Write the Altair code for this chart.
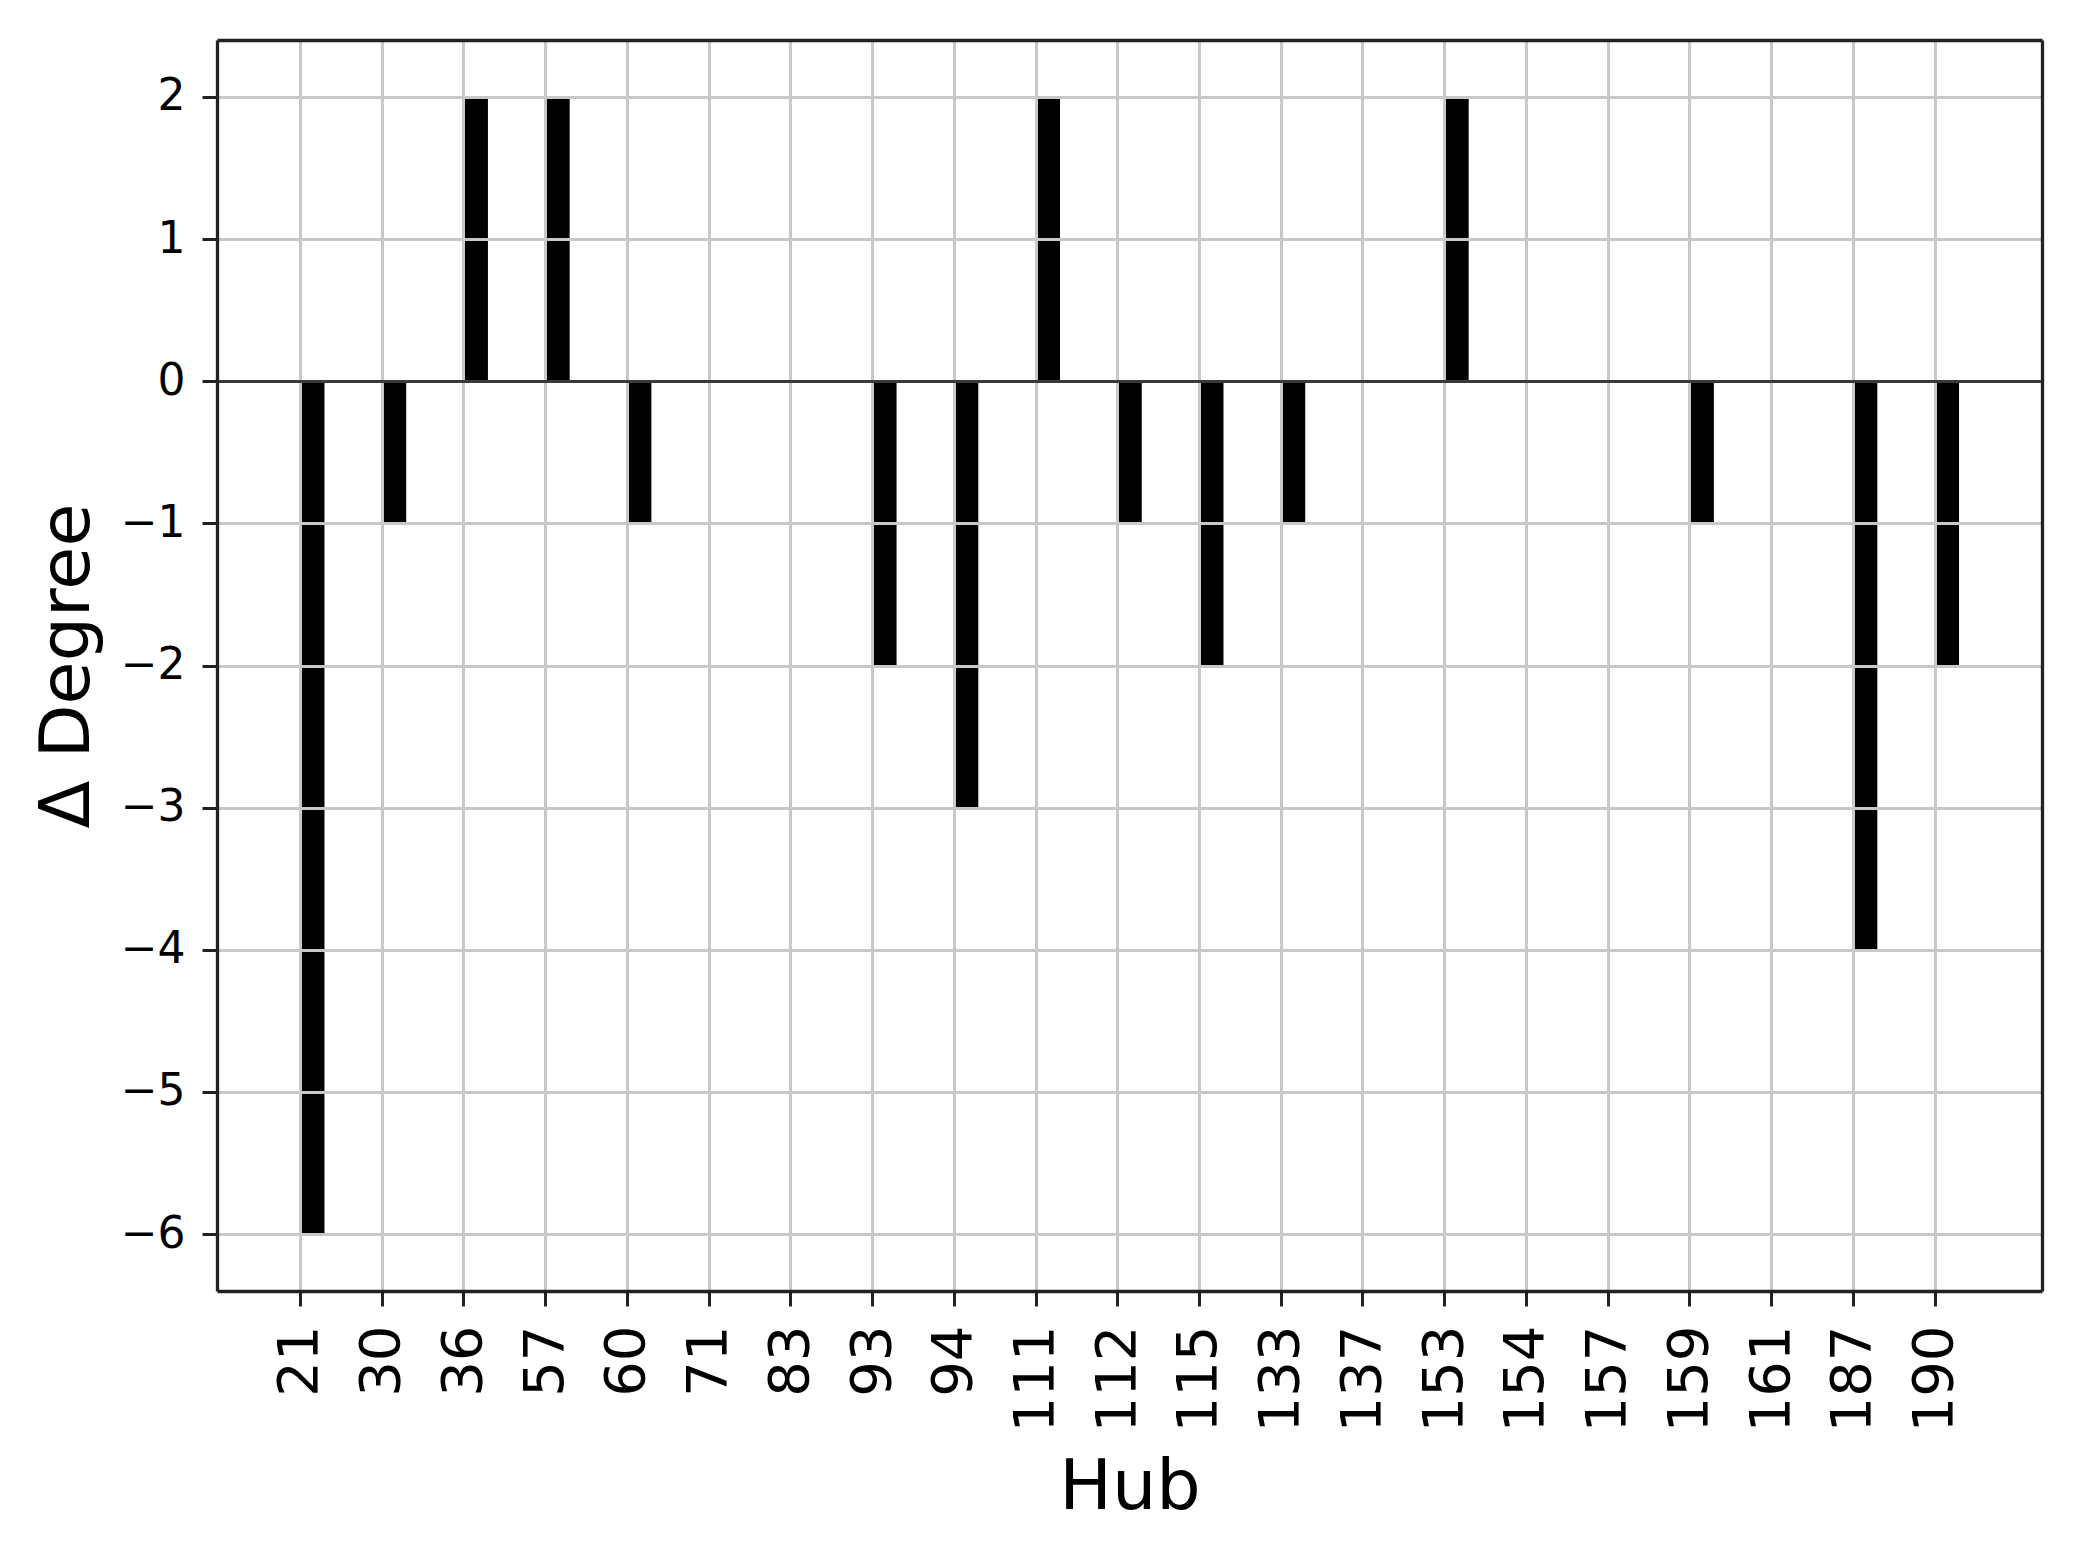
import altair as alt
import pandas as pd

hubs = ["21", "30", "36", "57", "60", "71", "83", "93", "94", "111", "112",
        "115", "133", "137", "153", "154", "157", "159", "161", "187", "190"]
deltas = [-6, -1, 2, 2, -1, 0, 0, -2, -3, 2, -1, -2, -1, 0, 2, 0, 0, -1, 0, -4, -2]
y_ticks = [-6, -5, -4, -3, -2, -1, 0, 1, 2]

df = pd.DataFrame({"hub": hubs, "delta": deltas, "idx": list(range(len(hubs)))})

label_expr = "[" + ",".join(f"'{h}'" for h in hubs) + "][datum.value]"

FONT = "DejaVu Sans"
W, H = 1825, 1251
SPINE = "#222222"

x_scale = alt.Scale(domain=[-1.015, 21.315], nice=False, zero=False)
y_scale = alt.Scale(domain=[-6.4, 2.4], nice=False, zero=False)

x_axis = alt.Axis(
    values=list(range(len(hubs))),
    labelExpr=label_expr,
    title="Hub",
    grid=True,
    gridColor="#c8c8c8",
    gridWidth=3,
    domainColor=SPINE,
    domainWidth=3.3,
    tickColor=SPINE,
    tickWidth=3,
    tickSize=15,
    labelAngle=270,
    labelAlign="right",
    labelBaseline="middle",
    labelPadding=19,
    labelFont=FONT,
    labelFontSize=56,
    labelColor="black",
    labelOverlap=False,
    labelFlush=False,
    titleFont=FONT,
    titleFontSize=70,
    titleFontWeight="normal",
    titleColor="black",
    titleX=W / 2,
    titleY=217,
    titleAlign="center",
    titleBaseline="alphabetic",
    zindex=1,
)

y_axis = alt.Axis(
    values=y_ticks,
    labelExpr="replace(datum.label, '-', '\u2212')",
    title="\u0394 Degree",
    grid=True,
    gridColor={"condition": {"test": "datum.value === 0", "value": "#3a3a3a"}, "value": "#c8c8c8"},
    gridWidth=3,
    domainColor=SPINE,
    domainWidth=3.3,
    tickColor=SPINE,
    tickWidth=3,
    tickSize=15,
    labelPadding=17,
    labelFont=FONT,
    labelFontSize=44,
    labelColor="black",
    labelBaseline="middle",
    labelFlush=False,
    labelOverlap=False,
    titleFont=FONT,
    titleFontSize=70,
    titleFontWeight="normal",
    titleColor="black",
    titleAngle=270,
    titleX=-129,
    titleY=H / 2,
    titleAlign="center",
    titleBaseline="alphabetic",
    zindex=1,
)

frame_x = alt.Axis(orient="top", labels=False, ticks=False, grid=False, title=None,
                   domainColor=SPINE, domainWidth=3.3, zindex=2)
frame_y = alt.Axis(orient="right", labels=False, ticks=False, grid=False, title=None,
                   domainColor=SPINE, domainWidth=3.3, zindex=2)

base = alt.Chart(df).transform_calculate(idx2="datum.idx + 0.3")

bars = base.mark_bar(color="black").encode(
    x=alt.X("idx:Q", scale=x_scale, axis=x_axis),
    x2="idx2:Q",
    y=alt.Y("delta:Q", scale=y_scale, axis=y_axis),
    y2=alt.datum(0),
)

frame = base.mark_bar(opacity=0).encode(
    x=alt.X("idx:Q", scale=x_scale, axis=frame_x),
    x2="idx2:Q",
    y=alt.Y("delta:Q", scale=y_scale, axis=frame_y),
    y2=alt.datum(0),
)

chart = (
    alt.layer(bars, frame)
    .resolve_axis(x="independent", y="independent")
    .properties(
        width=W,
        height=H,
        autosize=alt.AutoSizeParams(type="none"),
        padding={"left": 209, "top": 32, "right": 20, "bottom": 240},
    )
    .configure_view(stroke=None)
    .configure(background="white")
)

chart.save("out.html", embed_options={"renderer": "svg", "actions": False})
